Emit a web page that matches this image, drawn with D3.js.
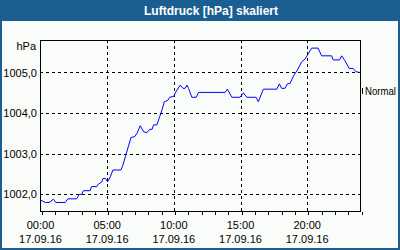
<!DOCTYPE html>
<html>
<head>
<meta charset="utf-8">
<script src="https://cdn.jsdelivr.net/npm/d3@7"></script>
<style>
html,body{margin:0;padding:0;background:#fff;}
svg{display:block;}
text{font-family:"Liberation Sans",Arial,sans-serif;}
</style>
</head>
<body>
<svg id="chart" width="400" height="250"></svg>
<script>
const title = "Luftdruck [hPa] skaliert";
const unitLabel = "hPa";
const refLabel = "Normal";
const refValue = 1004.54;
const dateLabel = "17.09.16";
const times = ["00:00","00:22","00:39","00:58","01:09","01:51","02:03","02:43","02:54","03:05","03:13","03:43","03:50","04:13","04:20","04:35","04:41","04:52","05:02","05:14","05:26","06:02","06:11","06:22","06:37","06:47","07:04","07:14","07:29","07:44","07:59","08:11","08:22","08:29","08:44","08:56","09:07","09:17","09:32","09:41","09:59","10:12","10:29","10:41","10:51","10:59","11:06","11:21","11:41","11:51","13:51","14:01","14:21","14:58","15:13","15:28","16:10","16:20","16:43","17:43","17:55","18:05","18:20","18:31","18:43","18:58","19:16","19:35","19:50","20:05","20:20","20:49","21:05","21:50","21:57","22:26","22:35","22:50","23:09","23:27","23:39","23:57"];
const values = [1001.86,1001.80,1001.80,1001.88,1001.80,1001.80,1001.89,1001.89,1002.00,1002.00,1002.09,1002.09,1002.19,1002.19,1002.25,1002.30,1002.39,1002.39,1002.31,1002.43,1002.60,1002.60,1002.72,1002.93,1003.21,1003.40,1003.42,1003.50,1003.69,1003.54,1003.52,1003.60,1003.60,1003.71,1003.71,1003.91,1004.08,1004.28,1004.31,1004.39,1004.41,1004.55,1004.69,1004.61,1004.61,1004.69,1004.61,1004.39,1004.39,1004.51,1004.51,1004.59,1004.39,1004.39,1004.50,1004.39,1004.39,1004.28,1004.59,1004.59,1004.72,1004.61,1004.61,1004.72,1004.73,1004.91,1005.06,1005.26,1005.33,1005.46,1005.60,1005.60,1005.41,1005.41,1005.31,1005.31,1005.41,1005.29,1005.10,1005.10,1005.02,1005.00];
const yTicks = [1002, 1003, 1004, 1005];
const xTickHours = [0, 5, 10, 15, 20];
const xTickLabels = ["00:00","05:00","10:00","15:00","20:00"];

const W = 400, H = 250;
const m = {left: 40, right: 360, top: 40, bottom: 211};
const svg = d3.select("#chart");

const parse = d3.timeParse("%d.%m.%y %H:%M");
const t0 = parse(dateLabel + " 00:00");
const t1 = d3.timeHour.offset(t0, 24);
const data = times.map((t, i) => ({t: parse(dateLabel + " " + t), v: values[i]}));

const x = d3.scaleTime().domain([t0, t1]).range([m.left + 0.5, m.right + 0.5]);
const y = d3.scaleLinear().domain([1001.59, 1005.8]).range([m.bottom, m.top]);
const px = v => Math.round(v) + 0.5;

// background and frame
svg.append("rect").attr("x", 0).attr("y", 0).attr("width", W).attr("height", H).attr("fill", "#fafcfa");
svg.append("rect").attr("x", 1).attr("y", 1).attr("width", W - 2).attr("height", H - 2)
  .attr("fill", "none").attr("stroke", "#1b5e92").attr("stroke-width", 2);
svg.append("rect").attr("x", 0).attr("y", 0).attr("width", W).attr("height", 21).attr("fill", "#1b5e92");
svg.append("text").attr("x", 211).attr("y", 15).attr("text-anchor", "middle")
  .attr("fill", "#ffffff").attr("font-weight", "bold").attr("font-size", 12).text(title);

// grid
const grid = svg.append("g").attr("stroke", "#000").attr("stroke-width", 1)
  .attr("stroke-dasharray", "3,3").attr("shape-rendering", "crispEdges");
yTicks.forEach(v => {
  grid.append("line").attr("x1", m.left).attr("x2", m.right).attr("y1", px(y(v))).attr("y2", px(y(v)));
});
xTickHours.slice(1).forEach(h => {
  const xx = px(x(d3.timeHour.offset(t0, h)));
  grid.append("line").attr("x1", xx).attr("x2", xx).attr("y1", m.top).attr("y2", m.bottom);
});

// plot frame
svg.append("rect").attr("x", m.left + 0.5).attr("y", m.top + 0.5)
  .attr("width", m.right - m.left).attr("height", m.bottom - m.top)
  .attr("fill", "none").attr("stroke", "#000").attr("shape-rendering", "crispEdges");

// x axis ticks (hourly)
const xAxis = d3.axisBottom(x).ticks(d3.timeHour.every(1)).tickSize(3).tickFormat("");
const gx = svg.append("g").attr("transform", `translate(0,${m.bottom + 0.5})`).call(xAxis);
gx.select(".domain").remove();
gx.selectAll("line").attr("shape-rendering", "crispEdges").attr("transform", d => `translate(${px(x(d)) - x(d)},0)`);

xTickHours.forEach((h, i) => {
  const xx = x(d3.timeHour.offset(t0, h));
  svg.append("text").attr("x", xx).attr("y", 229).attr("text-anchor", "middle")
    .attr("font-size", 11).attr("fill", "#000").text(xTickLabels[i]);
  svg.append("text").attr("x", xx).attr("y", 243).attr("text-anchor", "middle")
    .attr("font-size", 11).attr("fill", "#000").text(dateLabel);
});

// y labels
const yAxis = d3.axisLeft(y).tickValues(yTicks).tickSize(0).tickPadding(3)
  .tickFormat(d => d3.format(".1f")(d).replace(".", ","));
const gy = svg.append("g").attr("transform", `translate(${m.left},0)`).call(yAxis);
gy.select(".domain").remove();
gy.selectAll("text").attr("font-size", 11).attr("font-family", "Liberation Sans, Arial, sans-serif").attr("fill", "#000");
svg.append("text").attr("x", 36).attr("y", 50).attr("text-anchor", "end")
  .attr("font-size", 11).attr("fill", "#000").text(unitLabel);

// Normal marker on right
const ny = y(refValue);
svg.append("line").attr("x1", 362.5).attr("x2", 362.5).attr("y1", Math.round(ny) - 3).attr("y2", Math.round(ny) + 3)
  .attr("stroke", "#000").attr("shape-rendering", "crispEdges");
svg.append("text").attr("x", 365).attr("y", ny + 4).attr("font-size", 11).attr("fill", "#000")
  .attr("textLength", 31).attr("lengthAdjust", "spacingAndGlyphs").text(refLabel);

// data line
const line = d3.line().x(d => x(d.t)).y(d => y(d.v));
svg.append("path").datum(data).attr("d", line).attr("fill", "none")
  .attr("stroke", "#0000ff").attr("stroke-width", 1);
</script>
</body>
</html>
